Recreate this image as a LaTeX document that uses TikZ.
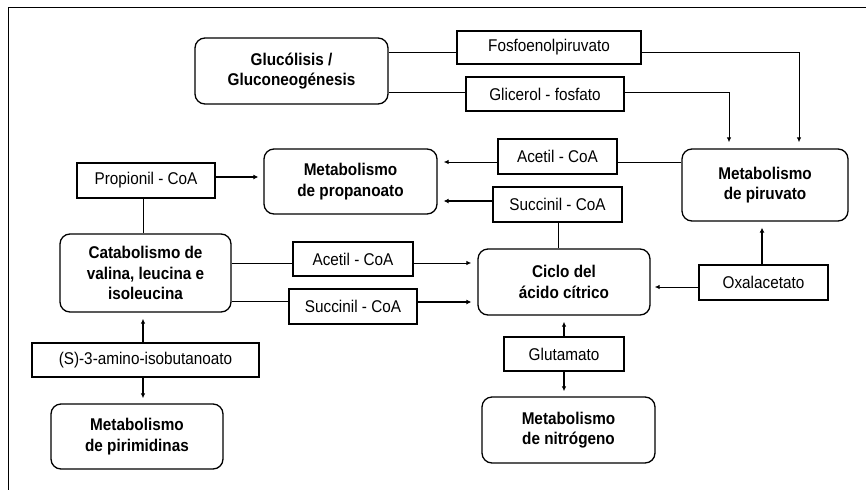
\documentclass[tikz,border=0pt]{standalone}
\usepackage{fontspec}
\setmainfont{Liberation Sans}[FakeStretch=0.9]
\usetikzlibrary{arrows.meta}
\begin{document}
\begin{tikzpicture}[x=1pt,y=-1pt,
  every node/.style={inner sep=0pt,font=\fontsize{17}{20.5}\selectfont},
  proc/.style={draw,line width=1.3pt,rounded corners=10pt,align=center,font=\fontsize{17}{20.5}\selectfont\bfseries},
  comp/.style={draw,line width=1.3pt,align=center},
  ln/.style={line width=1pt},
  arr/.style={line width=1pt,-{Latex[length=5pt,width=4.5pt]},shorten >=6pt},
  tarr/.style={line width=2pt,-{Latex[length=5pt,width=5pt]},shorten >=6pt}]
\useasboundingbox (0,0) rectangle (866,490);
\fill[white] (0,0) rectangle (866,490);
\draw[line width=1pt] (866,7) -- (8,7) -- (8,490);
% process boxes
\node[proc,minimum width=193pt,minimum height=66pt] (gluc) at (291.5,71) {Glucólisis /\\Gluconeogénesis};
\node[proc,minimum width=166pt,minimum height=72pt] (piru) at (765,185) {Metabolismo\\de piruvato};
\node[proc,minimum width=173pt,minimum height=65pt] (prop) at (350.5,181.5) {Metabolismo\\de propanoato};
\node[proc,minimum width=171pt,minimum height=78pt] (cata) at (145.5,273) {Catabolismo de\\valina, leucina e\\isoleucina};
\node[proc,minimum width=172pt,minimum height=66pt] (ciclo) at (564,282) {Ciclo del\\ácido cítrico};
\node[proc,minimum width=172pt,minimum height=65pt] (piri) at (137,436.5) {Metabolismo\\de pirimidinas};
\node[proc,minimum width=173pt,minimum height=66pt] (nitro) at (568.5,430) {Metabolismo\\de nitrógeno};
% compound boxes
\node[comp,minimum width=184pt,minimum height=33pt] (fosfo) at (549,47.5) {Fosfoenolpiruvato};
\node[comp,minimum width=158pt,minimum height=34pt] (glic) at (545,94) {Glicerol - fosfato};
\node[comp,minimum width=119pt,minimum height=35pt] (acet1) at (557.5,156.5) {Acetil - CoA};
\node[comp,minimum width=129pt,minimum height=35pt] (succ1) at (557.5,204.5) {Succinil - CoA};
\node[comp,minimum width=138pt,minimum height=35pt] (propi) at (146,180.5) {Propionil - CoA};
\node[comp,minimum width=120pt,minimum height=34pt] (acet2) at (353,259) {Acetil - CoA};
\node[comp,minimum width=128pt,minimum height=35pt] (succ2) at (353,306.5) {Succinil - CoA};
\node[comp,minimum width=129pt,minimum height=35pt] (oxal) at (763.5,282.5) {Oxalacetato};
\node[comp,minimum width=227pt,minimum height=34pt] (amino) at (145.5,360) {(S)-3-amino-isobutanoato};
\node[comp,minimum width=120pt,minimum height=34pt] (glut) at (564,354) {Glutamato};
% connectors
\draw[ln] ([yshift=-4.5pt]gluc.east |- fosfo.west) -- ([yshift=-4.5pt]fosfo.west);
\draw[arr] ([yshift=-4.5pt]fosfo.east) -| ([xshift=34pt]piru.north);
\draw[ln] ([yshift=2pt]gluc.east |- glic.west) -- ([yshift=2pt]glic.west);
\draw[arr] ([yshift=2pt]glic.east) -| ([xshift=-36pt]piru.north);
\draw[ln] ([yshift=23pt]piru.west) -- ([yshift=-5.5pt]acet1.east);
\draw[arr] ([yshift=-5.5pt]acet1.west) -- ([yshift=19.5pt]prop.east);
\draw[tarr] ([yshift=3.5pt]succ1.west) -- ([yshift=-19.5pt]prop.east);
\draw[ln] ([xshift=0.5pt]succ1.south) -- ([xshift=-6pt]ciclo.north);
\draw[tarr,shorten >=5pt] ([yshift=3.5pt]propi.east) -- ([yshift=4.5pt]prop.west);
\draw[ln] ([xshift=-3pt]propi.south) -- ([xshift=-2.5pt]cata.north);
\draw[ln] ([yshift=10pt]cata.east) -- ([yshift=-4pt]acet2.west);
\draw[arr] ([yshift=-4pt]acet2.east) -- ([yshift=19pt]ciclo.west);
\draw[ln] ([yshift=-28pt]cata.east) -- ([yshift=5.5pt]succ2.west);
\draw[tarr] ([yshift=4.5pt]succ2.east) -- ([yshift=-20pt]ciclo.west);
\draw[arr,shorten >=4pt] ([yshift=-4.5pt]oxal.west) -- ([yshift=-5pt]ciclo.east);
\draw[tarr] ([xshift=-1.5pt]oxal.north) -- ([xshift=-3pt]piru.south);
\draw[arr,line width=1.5pt] ([xshift=-2.5pt]amino.north) -- ([xshift=-2.5pt]cata.south);
\draw[arr,line width=1.5pt,shorten >=5pt] ([xshift=-2.5pt]amino.south) -- ([xshift=6pt]piri.north);
\draw[arr,line width=1.5pt] (glut.north) -- (ciclo.south);
\draw[arr,line width=1.5pt,shorten >=5pt] (glut.south) -- ([xshift=-4.5pt]nitro.north);
\end{tikzpicture}
\end{document}
